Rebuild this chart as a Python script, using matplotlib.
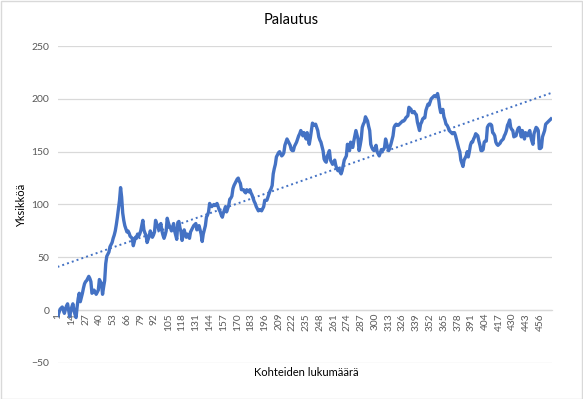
import numpy as np
import matplotlib
matplotlib.use("Agg")
import matplotlib.pyplot as plt
from matplotlib.patches import Rectangle

plt.rcParams['font.family'] = ['Lato', 'DejaVu Sans']

title = "Palautus"
x_label = "Kohteiden lukumäärä"
y_label = "Yksikköä"

values = [
    -5, -2, 1, 2, 3, 0, -3, 1, 4, 6,
    0, -6, -1, 3, 6, 0, -4, -7, 3, 11,
    16, 8, 12, 16, 21, 25, 27, 28, 30, 32,
    30, 27, 16, 17, 19, 17, 15, 17, 19, 29,
    27, 25, 15, 22, 28, 44, 51, 53, 55, 60,
    62, 64, 68, 71, 75, 81, 88, 96, 104, 116,
    107, 92, 85, 80, 77, 74, 75, 73, 70, 69,
    68, 61, 65, 69, 68, 72, 70, 72, 75, 80,
    85, 76, 73, 71, 64, 67, 70, 75, 72, 69,
    71, 74, 85, 82, 80, 76, 79, 82, 75, 71,
    68, 71, 75, 87, 83, 80, 78, 75, 78, 82,
    75, 71, 67, 83, 84, 78, 74, 66, 71, 76,
    72, 69, 72, 70, 68, 74, 76, 78, 80, 81,
    82, 76, 78, 80, 76, 72, 65, 72, 76, 80,
    88, 90, 93, 101, 99, 98, 99, 100, 99, 100,
    101, 98, 95, 93, 90, 88, 92, 95, 98, 93,
    96, 99, 105, 106, 108, 115, 118, 120, 122, 124,
    125, 122, 120, 114, 114, 114, 112, 111, 114, 113,
    112, 114, 111, 109, 106, 103, 101, 98, 96, 94,
    95, 95, 94, 96, 98, 104, 104, 104, 107, 110,
    113, 115, 118, 129, 134, 138, 145, 147, 149, 150,
    148, 146, 147, 149, 156, 159, 162, 160, 158, 156,
    152, 151, 151, 155, 157, 159, 162, 165, 167, 170,
    168, 165, 168, 165, 162, 168, 162, 157, 163, 170,
    177, 176, 175, 176, 173, 170, 164, 161, 159, 155,
    151, 143, 141, 140, 146, 148, 151, 142, 140, 138,
    140, 142, 137, 134, 132, 134, 131, 129, 132, 137,
    142, 144, 146, 157, 154, 151, 159, 156, 154, 160,
    165, 170, 166, 162, 151, 156, 162, 173, 176, 178,
    183, 181, 179, 174, 170, 157, 154, 152, 151, 153,
    156, 150, 148, 146, 149, 152, 151, 152, 154, 162,
    158, 154, 151, 154, 157, 161, 165, 173, 175, 176,
    175, 175, 176, 177, 178, 179, 179, 180, 182, 183,
    184, 192, 191, 190, 187, 187, 188, 186, 185, 178,
    174, 170, 176, 178, 181, 182, 182, 189, 192, 195,
    194, 197, 200, 201, 202, 203, 202, 202, 205, 200,
    192, 187, 188, 190, 183, 180, 176, 175, 173, 170,
    169, 168, 167, 168, 168, 165, 161, 157, 153, 150,
    142, 139, 136, 142, 144, 146, 150, 145, 150, 156,
    159, 159, 162, 164, 167, 166, 165, 160, 156, 151,
    151, 152, 159, 160, 160, 173, 175, 176, 176, 175,
    168, 167, 165, 159, 157, 156, 157, 158, 160, 161,
    162, 165, 167, 170, 175, 177, 180, 173, 171, 170,
    164, 165, 165, 169, 172, 173, 169, 164, 170, 166,
    162, 168, 166, 165, 168, 170, 164, 160, 157, 167,
    170, 173, 172, 170, 153, 153, 154, 164, 167, 170,
    176, 177, 178, 179, 180, 181,
]

y_ticks = [-50, 0, 50, 100, 150, 200, 250]
x_tick_step = 13

n = len(values)
idx = np.arange(1, n + 1)
vals = np.array(values, dtype=float)

fig = plt.figure(figsize=(5.83, 3.99), dpi=100)
ax = fig.add_axes([57.5 / 583, 1 - 363 / 399, (551.5 - 57.5) / 583, (363 - 46) / 399])

color = "#4472C4"
grid_c = "#D9D9D9"

for s in ['top', 'right', 'left']:
    ax.spines[s].set_visible(False)
ax.spines['bottom'].set_position(('data', 0))
ax.spines['bottom'].set_color(grid_c)
ax.spines['bottom'].set_linewidth(0.9)

ax.set_ylim(-50, 250)
ax.set_xlim(0.5, n + 0.5)
ax.set_yticks(y_ticks)
ax.yaxis.grid(True, color=grid_c, lw=0.9)
ax.set_axisbelow(True)

xt = list(range(1, n + 1, x_tick_step))
ax.set_xticks(xt)
ax.set_xticklabels([str(v) for v in xt])
ax.tick_params(axis='x', length=0, pad=2, labelsize=7.3, labelcolor="#595959", labelrotation=90)
ax.tick_params(axis='y', length=0, labelsize=7.5, labelcolor="#595959", pad=6)

ax.plot(idx, vals, color=color, lw=2.4, solid_joinstyle='round', zorder=3)

coef = np.polyfit(idx, vals, 1)
tx = np.array([0.5, n + 0.5])
ax.plot(tx, np.polyval(coef, tx), color=color, lw=1.4, linestyle=(0, (1, 1.6)), zorder=2)

fig.text(0.5, 1 - 20 / 399, title, ha='center', va='center', fontsize=10.5, color="#000000")
fig.text(306 / 583, 1 - 373 / 399, x_label, ha='center', va='center', fontsize=8, color="#000000")
fig.text(22 / 583, 1 - 205 / 399, y_label, ha='center', va='center', rotation=90, fontsize=8, color="#000000")

fig.patches.append(Rectangle((0.5 / 583, 0.5 / 399), 1 - 1.5 / 583, 1 - 1.5 / 399,
                             transform=fig.transFigure, fill=False, edgecolor=grid_c, lw=1))

fig.savefig("out.png", dpi=100)
